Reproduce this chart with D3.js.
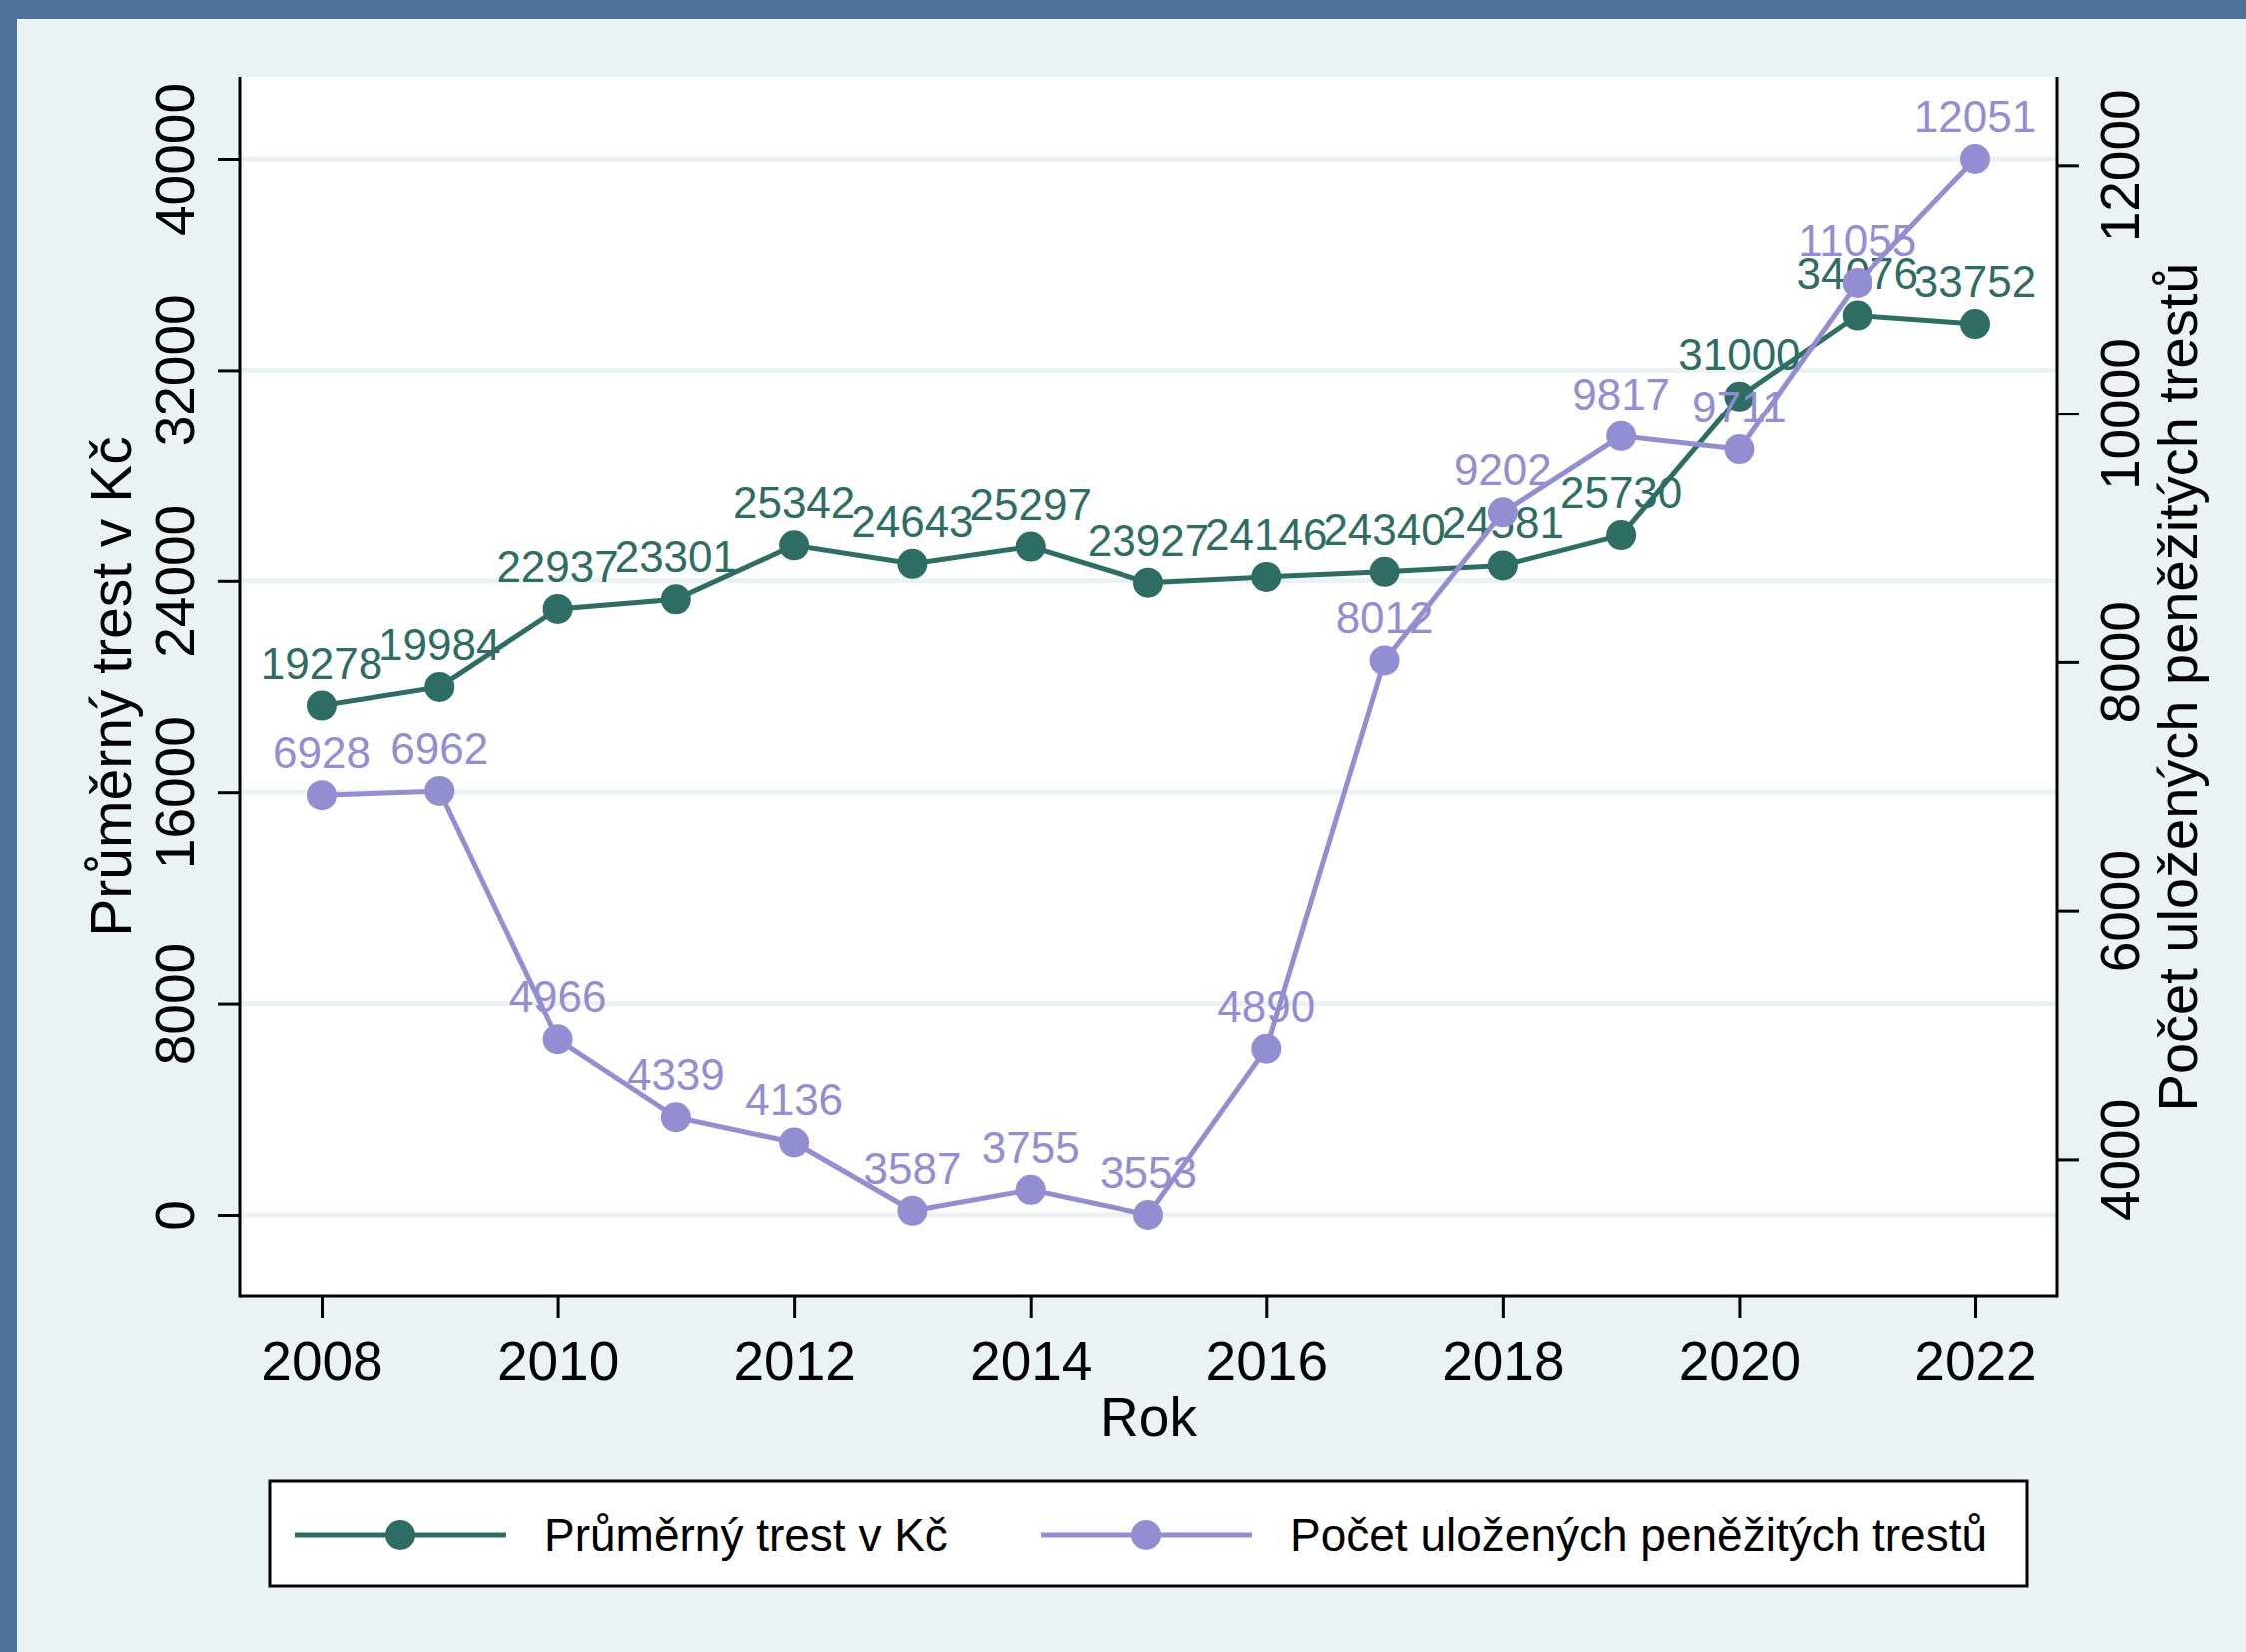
<!DOCTYPE html>
<html>
<head>
<meta charset="utf-8">
<title>Peněžité tresty</title>
<script src="https://cdn.jsdelivr.net/npm/d3@7"></script>
<style>
  html, body { margin: 0; padding: 0; background: #eaf2f3; }
  svg { display: block; font-family: "Liberation Sans", Arial, sans-serif; }
</style>
</head>
<body>
<svg width="2249" height="1654"></svg>
<script>
// data
var years = [2008, 2009, 2010, 2011, 2012, 2013, 2014, 2015, 2016, 2017, 2018, 2019, 2020, 2021, 2022];
var avgFine = [19278, 19984, 22937, 23301, 25342, 24643, 25297, 23927, 24146, 24340, 24581, 25730, 31000, 34076, 33752];
var fineCount = [6928, 6962, 4966, 4339, 4136, 3587, 3755, 3553, 4890, 8012, 9202, 9817, 9711, 11055, 12051];
var xTicks = [2008, 2010, 2012, 2014, 2016, 2018, 2020, 2022];
var leftTicks = [0, 8000, 16000, 24000, 32000, 40000];
var rightTicks = [4000, 6000, 8000, 10000, 12000];
var seriesNames = ["Průměrný trest v Kč", "Počet uložených peněžitých trestů"];

var green = "#2e6d63", purple = "#938ed2";
var bg = "#eaf2f3";

var svg = d3.select("svg");
var W = 2249, H = 1654;
var plot = {left: 240, right: 2060, top: 77, bottom: 1298};

// background + outer border (top and left only)
svg.append("rect").attr("width", W).attr("height", H).attr("fill", bg);
svg.append("rect").attr("x", 0).attr("y", 0).attr("width", W).attr("height", 19).attr("fill", "#4e7197");
svg.append("rect").attr("x", 0).attr("y", 0).attr("width", 17).attr("height", H).attr("fill", "#4e7197");

// plot region
svg.append("rect")
  .attr("x", plot.left).attr("y", plot.top)
  .attr("width", plot.right - plot.left).attr("height", plot.bottom - plot.top)
  .attr("fill", "#ffffff");

var x = d3.scaleLinear().domain([2008, 2022]).range([322, 1978]);
var yL = d3.scaleLinear().domain([0, 40000]).range([1216, 159]);
var yR = d3.scaleLinear().domain([d3.min(fineCount), d3.max(fineCount)]).range([1216, 159]);

// grid
svg.append("g").selectAll("line")
  .data(leftTicks)
  .enter().append("line")
  .attr("x1", plot.left).attr("x2", plot.right)
  .attr("y1", function(d){ return yL(d); })
  .attr("y2", function(d){ return yL(d); })
  .attr("stroke", bg).attr("stroke-width", 5);

// axes
function styleAxis(g){
  g.select(".domain").remove();
  g.selectAll(".tick line").attr("stroke", "#000").attr("stroke-width", 3);
  g.selectAll(".tick text").attr("fill", "#000").attr("font-size", 55)
    .attr("font-family", "Liberation Sans, Arial, sans-serif");
}

var gx = svg.append("g")
  .attr("transform", "translate(0," + plot.bottom + ")")
  .call(d3.axisBottom(x).tickValues(xTicks).tickFormat(d3.format("d")).tickSize(22).tickSizeOuter(0));
styleAxis(gx);
gx.selectAll(".tick text").attr("y", 84).attr("dy", 0);

var gl = svg.append("g")
  .attr("transform", "translate(" + plot.left + ",0)")
  .call(d3.axisLeft(yL).tickValues(leftTicks).tickFormat(d3.format("d")).tickSize(22).tickSizeOuter(0));
styleAxis(gl);
gl.selectAll(".tick text")
  .attr("transform", "rotate(-90)")
  .attr("x", 0).attr("y", -46).attr("dy", 0)
  .attr("text-anchor", "middle");

var gr = svg.append("g")
  .attr("transform", "translate(" + plot.right + ",0)")
  .call(d3.axisRight(yR).tickValues(rightTicks).tickFormat(d3.format("d")).tickSize(22).tickSizeOuter(0));
styleAxis(gr);
gr.selectAll(".tick text")
  .attr("transform", "rotate(-90)")
  .attr("x", 0).attr("y", 82).attr("dy", 0)
  .attr("text-anchor", "middle");

// axis lines
svg.append("line").attr("x1", plot.left).attr("x2", plot.left).attr("y1", plot.top).attr("y2", plot.bottom + 1.5)
  .attr("stroke", "#000").attr("stroke-width", 3);
svg.append("line").attr("x1", plot.right).attr("x2", plot.right).attr("y1", plot.top).attr("y2", plot.bottom + 1.5)
  .attr("stroke", "#000").attr("stroke-width", 3);
svg.append("line").attr("x1", plot.left).attr("x2", plot.right).attr("y1", plot.bottom).attr("y2", plot.bottom)
  .attr("stroke", "#000").attr("stroke-width", 3);

// axis titles
svg.append("text")
  .attr("transform", "translate(131," + ((plot.top + plot.bottom) / 2) + ") rotate(-90)")
  .attr("text-anchor", "middle").attr("font-size", 57).attr("fill", "#000")
  .text(seriesNames[0]);
svg.append("text")
  .attr("transform", "translate(2200," + ((plot.top + plot.bottom) / 2) + ") rotate(-90)")
  .attr("text-anchor", "middle").attr("font-size", 56).attr("fill", "#000")
  .text(seriesNames[1]);
svg.append("text")
  .attr("x", (plot.left + plot.right) / 2).attr("y", 1438)
  .attr("text-anchor", "middle").attr("font-size", 55).attr("fill", "#000")
  .text("Rok");

// series
function drawSeries(vals, yScale, color){
  var pts = years.map(function(yr, i){ return {yr: yr, v: vals[i]}; });
  var line = d3.line().x(function(d){ return x(d.yr); }).y(function(d){ return yScale(d.v); });
  var g = svg.append("g");
  g.append("path").datum(pts).attr("d", line)
    .attr("fill", "none").attr("stroke", color).attr("stroke-width", 5);
  g.selectAll("circle").data(pts).enter().append("circle")
    .attr("cx", function(d){ return x(d.yr); })
    .attr("cy", function(d){ return yScale(d.v); })
    .attr("r", 15).attr("fill", color);
  g.selectAll("text").data(pts).enter().append("text")
    .attr("x", function(d){ return x(d.yr); })
    .attr("y", function(d){ return yScale(d.v) - 27; })
    .attr("text-anchor", "middle").attr("font-size", 44).attr("fill", color)
    .text(function(d){ return d.v; });
}
drawSeries(avgFine, yL, green);
drawSeries(fineCount, yR, purple);

// legend
var leg = svg.append("g");
leg.append("rect").attr("x", 270).attr("y", 1483).attr("width", 1760).attr("height", 105)
  .attr("fill", "#fff").attr("stroke", "#000").attr("stroke-width", 3);
var legItems = [
  {name: seriesNames[0], color: green, x0: 295},
  {name: seriesNames[1], color: purple, x0: 1042}
];
var li = leg.selectAll("g.item").data(legItems).enter().append("g").attr("class", "item");
li.append("line")
  .attr("x1", function(d){ return d.x0; }).attr("x2", function(d){ return d.x0 + 212; })
  .attr("y1", 1537).attr("y2", 1537)
  .attr("stroke", function(d){ return d.color; }).attr("stroke-width", 5);
li.append("circle")
  .attr("cx", function(d){ return d.x0 + 106; }).attr("cy", 1537).attr("r", 15)
  .attr("fill", function(d){ return d.color; });
li.append("text")
  .attr("x", function(d){ return d.x0 + 250; }).attr("y", 1553)
  .attr("font-size", 46).attr("fill", "#000")
  .text(function(d){ return d.name; });
</script>
</body>
</html>
